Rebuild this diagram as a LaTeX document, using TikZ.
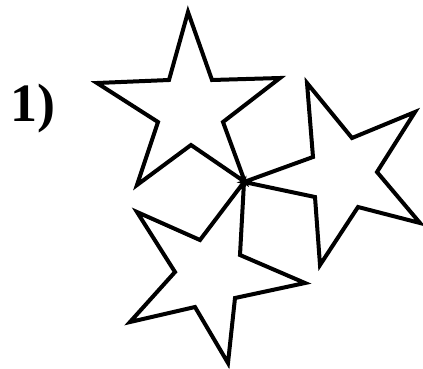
\documentclass[tikz,border=0pt]{standalone}
\usepackage{fontspec}
\setmainfont{Liberation Serif}

\begin{document}
\begin{tikzpicture}[x=1pt,y=-1pt,
  starline/.style={line width=4pt,line join=miter,miter limit=20}]
\useasboundingbox (0,0) rectangle (423,368);
\draw[starline] (188,12) -- (212,80) -- (280,78) -- (223,122) -- (245,182) -- (191,145) -- (137,185) -- (158,122) -- (97,83) -- (169,80) -- cycle;
\draw[starline] (244,182) -- (313,157) -- (307,83) -- (352,138) -- (415,112) -- (377,172) -- (420,223) -- (358,207) -- (320,265) -- (315,197) -- cycle;
\draw[starline] (244,182) -- (240,255) -- (305,283) -- (235,298) -- (228,363) -- (195,307) -- (130,322) -- (175,272) -- (137,212) -- (200,240) -- cycle;
\node (label) at (33,109) {\fontsize{54}{60}\selectfont\bfseries 1)};
\end{tikzpicture}
\end{document}
